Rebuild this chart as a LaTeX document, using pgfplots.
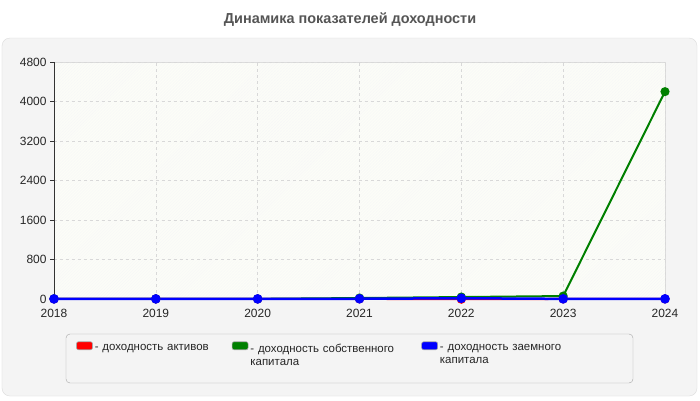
\documentclass[border=0pt]{standalone}
\usepackage{pgfplots}
\pgfplotsset{compat=1.18}
\usepackage{fontspec}
\setmainfont{Liberation Sans}
\usetikzlibrary{patterns}

\definecolor{panelbg}{HTML}{F4F4F4}
\definecolor{panelline}{HTML}{DCDCDC}
\definecolor{plotbg}{HTML}{FCFDF7}
\definecolor{gridc}{HTML}{D8D8D8}
\definecolor{titlec}{HTML}{555555}
\definecolor{cred}{HTML}{FF0000}
\definecolor{cgreen}{HTML}{008000}
\definecolor{cblue}{HTML}{0000FF}

\pgfplotstableread{
year  red  green  blue
2018  1    5      2
2019  1    3      2
2020  1    3      2
2021  2    20     5
2022  -5   40     15
2023  1    60     3
2024  1    4200   3
}\yields

\begin{document}
\begin{tikzpicture}[x=1bp,y=1bp]
  \path[use as bounding box, fill=white] (-54,-101) rectangle (646,299);
  \fill[panelbg, draw=panelline, rounded corners=8bp] (-52,-97) rectangle (643,261);
  \node[font=\bfseries\fontsize{14.5}{16}\selectfont, text=titlec] at (296,279) {Динамика показателей доходности};
  \fill[plotbg] (0,0) rectangle (611,237);
  \fill[pattern=north east lines, pattern color=black!3] (0,0) rectangle (611,237);
  \draw[panelline] (0,237) -- (611,237) -- (611,0);
  \draw[rounded corners=4bp, draw=black!35, fill=panelbg] (12,-35) rectangle (579,-84);
  \begin{axis}[
    at={(0,0)}, anchor=south west,
    scale only axis, width=611bp, height=237bp,
    xmin=2018, xmax=2024, ymin=0, ymax=4800,
    xtick={2018,...,2024}, ytick={0,800,...,4800},
    xticklabel style={/pgf/number format/1000 sep={}, yshift=-3bp},
    yticklabel style={/pgf/number format/1000 sep={}},
    /pgf/number format/assume math mode=true,
    tick label style={font=\fontsize{12}{14}\selectfont, text=black!85},
    axis x line*=bottom, axis y line*=left,
    axis line style={black!80},
    x axis line style={draw=none},
    xtick style={draw=none},
    ytick style={black!80},
    tick align=outside, major tick length=4bp,
    grid=major, major grid style={gridc, dashed},
    clip=false,
    legend columns=3,
    legend style={
      at={(22bp,-42bp)}, anchor=north west, draw=none, fill=none,
      font=\fontsize{11.5}{12.5}\selectfont, text=black!85,
      cells={anchor=north west, align=left},
      /tikz/column 1/.style={yshift=-3.5bp},
      /tikz/column 3/.style={yshift=-3.5bp},
      /tikz/column 5/.style={yshift=-3.5bp},
      /tikz/column 2/.style={text width=135bp},
      /tikz/column 4/.style={text width=169bp},
      /tikz/column 6/.style={text width=140bp},
      inner sep=0pt, row sep=0pt,
    },
  ]
    \addplot[cred, line width=2bp, mark=*, mark size=3.5bp, mark options={fill=cred, draw=cred},
      legend image code/.code={\draw[rounded corners=2bp, line width=0.6bp, draw=black!35, fill=cred] (0bp,-4bp) rectangle (16bp,4bp);}]
      table[x=year, y=red] {\yields};
    \addlegendentry{- доходность активов}
    \addplot[cgreen, line width=2bp, mark=*, mark size=3.5bp, mark options={fill=cgreen, draw=cgreen},
      legend image code/.code={\draw[rounded corners=2bp, line width=0.6bp, draw=black!35, fill=cgreen] (0bp,-4bp) rectangle (16bp,4bp);}]
      table[x=year, y=green] {\yields};
    \addlegendentry{- доходность собственного\\капитала}
    \addplot[cblue, line width=2.5bp, mark=*, mark size=3.5bp, mark options={fill=cblue, draw=cblue},
      legend image code/.code={\draw[rounded corners=2bp, line width=0.6bp, draw=black!35, fill=cblue] (0bp,-4bp) rectangle (16bp,4bp);}]
      table[x=year, y=blue] {\yields};
    \addlegendentry{- доходность заемного\\капитала}
  \end{axis}
\end{tikzpicture}
\end{document}
